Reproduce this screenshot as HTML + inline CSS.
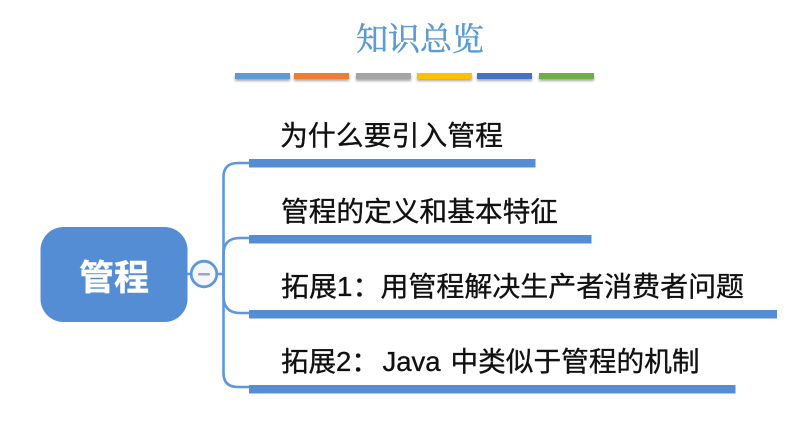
<!DOCTYPE html>
<html><head><meta charset="utf-8"><style>
html,body{margin:0;padding:0;background:#fff}
svg{display:block}
.t{font-family:"Liberation Sans","Noto Sans CJK SC",sans-serif;font-size:27.5px;fill:#111;stroke:#111;stroke-width:.35px}
</style></head><body>
<svg width="800" height="431" viewBox="0 0 800 431" xmlns="http://www.w3.org/2000/svg">
<defs><filter id="s" x="-10%" y="-50%" width="120%" height="250%"><feDropShadow dx="0" dy="2" stdDeviation="1.200" flood-color="#000" flood-opacity=".35"/></filter></defs>
<rect width="800" height="431" fill="#fff"/>
<text x="420" y="50" text-anchor="middle" font-family="'Noto Serif CJK SC','Liberation Serif',serif" font-size="32" fill="#5b9bd5" stroke="#5b9bd5" stroke-width=".5">知识总览</text>
<g filter="url(#s)">
<rect x="235" y="73" width="55" height="6" fill="#5b9bd5"/>
<rect x="294" y="73" width="55" height="6" fill="#ed7d31"/>
<rect x="356" y="73" width="55" height="6" fill="#a5a5a5"/>
<rect x="417" y="73" width="55" height="6" fill="#ffc000"/>
<rect x="477" y="73" width="55" height="6" fill="#4472c4"/>
<rect x="539" y="73" width="55" height="6" fill="#70ad47"/>
</g>
<g fill="none" stroke="#5f97de" stroke-width="2.600">
<path d="M250 163H238Q223.500 163 223.500 177V373Q223.500 387 238 387H250"/>
<path d="M250 238H240Q223.500 238 223.500 254V296Q223.500 313 240 313H250"/>
<path d="M187 274H191M217 274H223"/>
</g>
<g fill="#548dd4">
<rect x="249" y="159" width="286.500" height="8.500"/>
<rect x="249" y="235" width="342.500" height="8.500"/>
<rect x="249" y="310" width="528" height="8.500"/>
<rect x="249" y="385" width="486.500" height="8.500"/>
<rect x="40.500" y="227" width="147" height="95" rx="23" ry="23"/>
</g>
<circle cx="204" cy="274" r="12.800" fill="#f5f5fa" stroke="#5f97de" stroke-width="2.800"/>
<rect x="198" y="273" width="12" height="2.500" rx="1" fill="#9aa5cf"/>
<text x="114" y="290" text-anchor="middle" font-family="'Liberation Sans','Noto Sans CJK SC',sans-serif" font-size="35" font-weight="700" fill="#fff" stroke="#fff" stroke-width=".4">管程</text>
<text class="t" x="280" y="145" textLength="223" lengthAdjust="spacingAndGlyphs">为什么要引入管程</text>
<text class="t" x="281" y="221" textLength="277" lengthAdjust="spacingAndGlyphs">管程的定义和基本特征</text>
<text class="t" x="281" y="296" textLength="463" lengthAdjust="spacingAndGlyphs">拓展1：用管程解决生产者消费者问题</text>
<text class="t" x="281" y="371"><tspan>拓展2：</tspan><tspan x="382.500">Java</tspan><tspan x="450.500" textLength="249" lengthAdjust="spacingAndGlyphs">中类似于管程的机制</tspan></text>
</svg>
</body></html>
